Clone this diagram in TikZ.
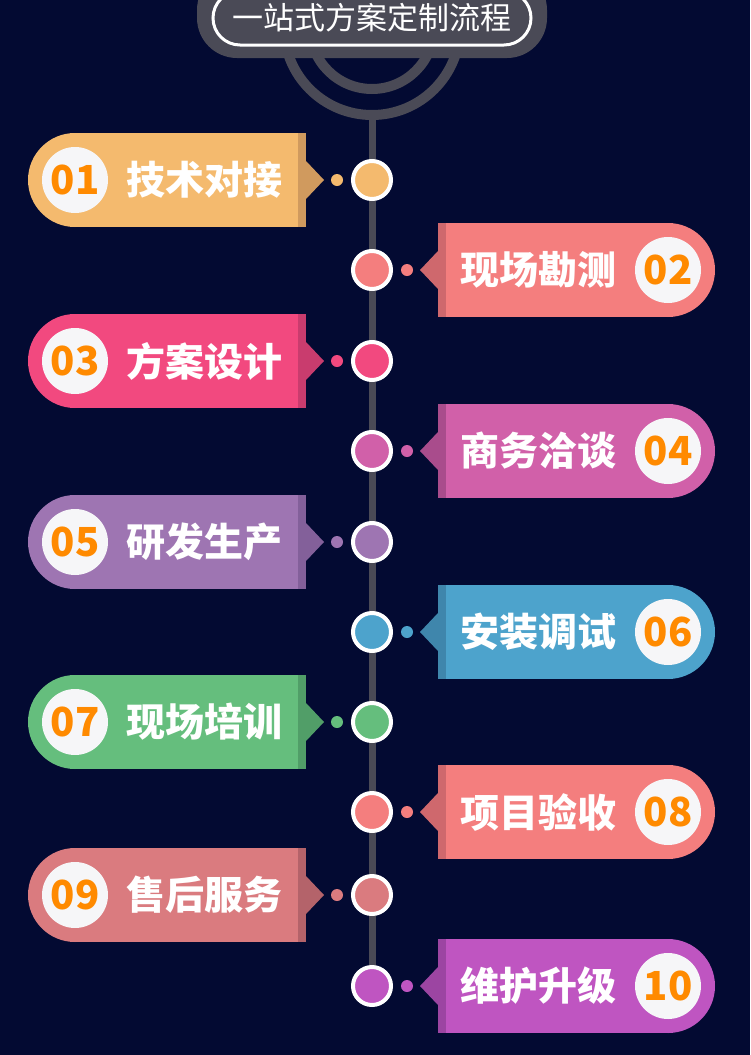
\documentclass[tikz,border=0pt]{standalone}
\usepackage{fontspec}
\newfontfamily\cjk{Noto Sans CJK SC}
\usetikzlibrary{positioning}

\definecolor{bgnavy}{HTML}{030A32}
\definecolor{railgrey}{HTML}{4A4A56}
\definecolor{numorange}{HTML}{FF8A00}
\definecolor{numwhite}{HTML}{F6F6F8}
\definecolor{c1}{HTML}{F4BA6E} \definecolor{d1}{HTML}{D09A5E}
\definecolor{c2}{HTML}{F47E7E} \definecolor{d2}{HTML}{CF686D}
\definecolor{c3}{HTML}{F2497F} \definecolor{d3}{HTML}{C93C6E}
\definecolor{c4}{HTML}{D160A9} \definecolor{d4}{HTML}{A94C8C}
\definecolor{c5}{HTML}{9E75B2} \definecolor{d5}{HTML}{83609A}
\definecolor{c6}{HTML}{4DA3CC} \definecolor{d6}{HTML}{3F86AC}
\definecolor{c7}{HTML}{65BE7D} \definecolor{d7}{HTML}{519E68}
\definecolor{c8}{HTML}{F47E7E} \definecolor{d8}{HTML}{CF686D}
\definecolor{c9}{HTML}{DA7B7F} \definecolor{d9}{HTML}{B4636A}
\definecolor{c10}{HTML}{BF55C1} \definecolor{d10}{HTML}{9C45A2}

\begin{document}
\begin{tikzpicture}[x=1pt, y=-1pt,
        steptext/.style={font=\cjk\bfseries\fontsize{39}{39}\selectfont, text=white, inner sep=0pt},
        stepnum/.style={circle, fill=numwhite, minimum size=66pt, inner sep=0pt,
            font=\cjk\bfseries\fontsize{40}{40}\selectfont, text=numorange},
        stepdot/.style={circle, minimum size=12pt, inner sep=0pt},
        stepring/.style={circle, draw=white, line width=4pt, minimum size=38pt, inner sep=0pt}]
        \useasboundingbox (0, 0) rectangle (750, 1055);
        \fill[bgnavy] (0, 0) rectangle (750, 1055);

        % hanger arcs and rail
        \draw[railgrey, line width=10pt] (372, 27) circle (88);
        \draw[railgrey, line width=10pt] (372, 27) circle (62);
        \coordinate (railtop) at (372, 115);
        \coordinate (railend) at (372, 986);
        \draw[railgrey, line width=7pt] (railtop) -- (railend);

        % title
        \fill[railgrey, rounded corners=40pt] (197, -30) rectangle (547, 58);
        \draw[white, line width=3pt, fill=railgrey, rounded corners=27pt] (213, -9) rectangle (531, 45);
        \node[font=\cjk\fontsize{31}{31}\selectfont, text=white] (title) at (372, 18) {一站式方案定制流程};

        % left steps
        \foreach \y/\num/\txt/\col/\dcol in {180/01/技术对接/c1/d1, 361/03/方案设计/c3/d3,
                542/05/研发生产/c5/d5, 722/07/现场培训/c7/d7, 895/09/售后服务/c9/d9} {
            \fill[\col] (75, \y-47) rectangle (306, \y+47);
            \fill[\col] (75, \y) circle (47);
            \fill[\dcol] (298, \y-47) rectangle (306, \y+47);
            \fill[\dcol] (306, \y-19) -- (324, \y) -- (306, \y+19) -- cycle;
            \node[stepnum] (num\num) at (75, \y) {\num};
            \node[steptext, right=18pt of num\num] (txt\num) {\txt};
            \node[stepdot, fill=\col] (dot\num) at (337, \y) {};
            \node[stepring, fill=\col] (ring\num) at (372, \y) {};
        }

        % right steps
        \foreach \y/\num/\txt/\col/\dcol in {270/02/现场勘测/c2/d2, 451/04/商务洽谈/c4/d4,
                632/06/安装调试/c6/d6, 812/08/项目验收/c8/d8, 986/10/维护升级/c10/d10} {
            \fill[\col] (445, \y-47) rectangle (668, \y+47);
            \fill[\col] (668, \y) circle (47);
            \fill[\dcol] (438, \y-47) rectangle (446, \y+47);
            \fill[\dcol] (438, \y-19) -- (420, \y) -- (438, \y+19) -- cycle;
            \node[stepnum] (num\num) at (668, \y) {\num};
            \node[steptext, left=18pt of num\num] (txt\num) {\txt};
            \node[stepdot, fill=\col] (dot\num) at (407, \y) {};
            \node[stepring, fill=\col] (ring\num) at (372, \y) {};
        }
    \end{tikzpicture}
\end{document}
